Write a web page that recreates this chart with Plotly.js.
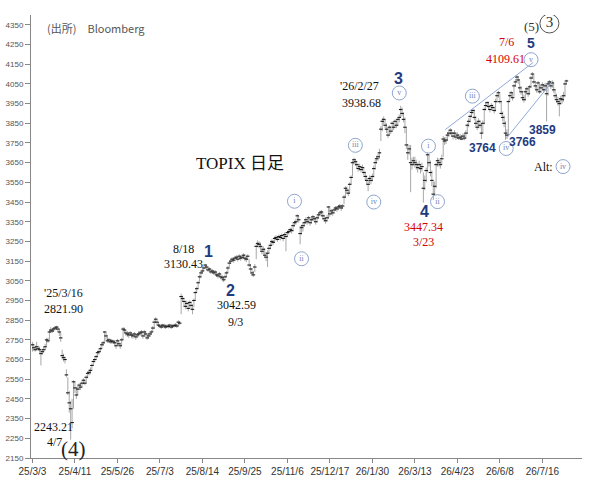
<!DOCTYPE html>
<html>
<head>
<meta charset="utf-8">
<script src="https://cdn.plot.ly/plotly-3.0.1.min.js"></script>
<style>body{margin:0;background:#fff;}</style>
</head>
<body>
<div id="topix_div" style="width:604px;height:481px;"></div>
<script>
// TOPIX daily (one value per trading day)
let close_px = [
  2725, 2710, 2700, 2715, 2705, 2700, 2680, 2690, 2700, 2715,
  2750, 2745, 2790, 2800, 2795, 2805, 2810, 2815, 2805, 2790,
  2760, 2670, 2660, 2650, 2572, 2481, 2430, 2400, 2330, 2537,
  2506, 2470, 2500, 2520, 2510, 2530, 2545, 2530, 2560, 2580,
  2585, 2595, 2620, 2640, 2650, 2665, 2685, 2690, 2705, 2725,
  2735, 2790, 2770, 2745, 2750, 2740, 2745, 2740, 2735, 2720,
  2745, 2730, 2720, 2750, 2805, 2800, 2785, 2780, 2775, 2785,
  2775, 2770, 2780, 2765, 2775, 2780, 2785, 2790, 2770, 2790,
  2780, 2760, 2770, 2780, 2790, 2810, 2840, 2855, 2840, 2825,
  2820, 2815, 2825, 2820, 2815, 2820, 2818, 2825, 2815, 2820,
  2822, 2825, 2820, 2840, 2835, 2970, 2960, 2945, 2920, 2935,
  2910, 2940, 2925, 2905, 2950, 2990, 3010, 3040, 3070, 3090,
  3100, 3115, 3130, 3120, 3105, 3110, 3095, 3100, 3090, 3095,
  3080, 3075, 3085, 3070, 3065, 3055, 3070, 3090, 3115, 3140,
  3150, 3160, 3155, 3165, 3170, 3160, 3175, 3165, 3170, 3180,
  3165, 3160, 3175, 3130, 3110, 3090, 3080, 3120, 3225, 3240,
  3235, 3225, 3200, 3210, 3180, 3170, 3190, 3215, 3230, 3250,
  3245, 3265, 3270, 3260, 3275, 3270, 3280, 3265, 3285, 3275,
  3295, 3300, 3310, 3305, 3330, 3345, 3350, 3380, 3360, 3290,
  3320, 3330, 3345, 3360, 3350, 3370, 3345, 3360, 3375, 3365,
  3350, 3370, 3385, 3395, 3400, 3380, 3365, 3355, 3370, 3425,
  3390, 3405, 3395, 3410, 3420, 3415, 3425, 3430, 3420, 3430,
  3475, 3520, 3510, 3495, 3540, 3575, 3650, 3665, 3655, 3640,
  3620, 3630, 3615, 3625, 3600, 3580, 3560, 3540, 3570, 3560,
  3580, 3620, 3650, 3670, 3680, 3700, 3820, 3860, 3870, 3840,
  3820, 3790, 3830, 3810, 3850, 3830, 3860, 3840, 3870, 3880,
  3920, 3900, 3870, 3830, 3740, 3700, 3720, 3650, 3640, 3660,
  3650, 3640, 3625, 3640, 3620, 3630, 3520, 3560, 3610, 3690,
  3650, 3600, 3560, 3490, 3530, 3640, 3660, 3650, 3640, 3670,
  3770, 3760, 3765, 3790, 3800, 3815, 3800, 3785, 3800, 3780,
  3790, 3775, 3780, 3770, 3785, 3775, 3800, 3840, 3860, 3885,
  3905, 3915, 3880, 3850, 3830, 3860, 3840, 3800, 3850, 3920,
  3940, 3955, 3935, 3920, 3940, 3930, 3915, 3960, 3990, 4005,
  3960, 3900, 3880, 3850, 3800, 3790, 3960, 3990, 4005, 3980,
  4040, 4060, 4085, 4070, 4030, 4010, 3980, 3970, 4010, 4025,
  4000, 4035, 4080, 4100, 4060, 4040, 4020, 4055, 4010, 4030,
  4045, 4020, 4040, 4000, 4050, 4060, 4040, 4055, 4020, 3990,
  3970, 3960, 3950, 3975, 3970, 3990, 4050, 4065
];
let high_px = [
  2740, 2730, 2720, 2740, 2720, 2715, 2705, 2705, 2715, 2730,
  2760, 2760, 2800, 2815, 2810, 2815, 2820, 2822, 2818, 2805,
  2785, 2700, 2680, 2665, 2600, 2560, 2490, 2440, 2450, 2545,
  2540, 2510, 2515, 2530, 2530, 2540, 2555, 2550, 2570, 2590,
  2600, 2610, 2630, 2650, 2660, 2675, 2695, 2700, 2715, 2735,
  2745, 2795, 2785, 2765, 2760, 2755, 2755, 2750, 2750, 2740,
  2755, 2750, 2735, 2760, 2815, 2812, 2800, 2795, 2790, 2795,
  2790, 2785, 2790, 2780, 2785, 2795, 2795, 2800, 2790, 2800,
  2795, 2780, 2785, 2790, 2800, 2820, 2850, 2865, 2855, 2840,
  2830, 2828, 2832, 2830, 2828, 2830, 2828, 2832, 2828, 2830,
  2832, 2835, 2832, 2850, 2845, 2985, 2975, 2965, 2945, 2950,
  2935, 2950, 2945, 2930, 2960, 3000, 3020, 3050, 3080, 3100,
  3110, 3125, 3135, 3132, 3120, 3118, 3110, 3110, 3102, 3105,
  3095, 3088, 3095, 3085, 3078, 3070, 3082, 3100, 3125, 3150,
  3160, 3170, 3168, 3175, 3180, 3175, 3185, 3178, 3180, 3190,
  3185, 3175, 3185, 3160, 3135, 3115, 3100, 3135, 3235, 3255,
  3250, 3245, 3225, 3225, 3215, 3195, 3205, 3225, 3245, 3260,
  3258, 3275, 3282, 3275, 3285, 3282, 3290, 3285, 3295, 3290,
  3305, 3312, 3320, 3320, 3340, 3355, 3365, 3388, 3380, 3330,
  3335, 3345, 3355, 3372, 3365, 3380, 3365, 3372, 3385, 3378,
  3368, 3380, 3395, 3405, 3410, 3400, 3385, 3372, 3385, 3430,
  3420, 3415, 3410, 3420, 3430, 3428, 3435, 3440, 3432, 3440,
  3485, 3530, 3528, 3515, 3550, 3585, 3660, 3675, 3670, 3660,
  3645, 3645, 3632, 3640, 3625, 3605, 3585, 3565, 3585, 3580,
  3595, 3635, 3665, 3685, 3695, 3720, 3835, 3875, 3885, 3872,
  3850, 3825, 3840, 3835, 3860, 3855, 3870, 3865, 3880, 3895,
  3939, 3930, 3905, 3880, 3830, 3745, 3740, 3740, 3675, 3680,
  3680, 3665, 3650, 3660, 3645, 3650, 3600, 3585, 3625, 3700,
  3690, 3660, 3610, 3555, 3555, 3650, 3675, 3672, 3665, 3690,
  3785, 3780, 3782, 3805, 3812, 3825, 3820, 3805, 3815, 3800,
  3805, 3795, 3795, 3790, 3800, 3795, 3815, 3850, 3875, 3895,
  3915, 3925, 3920, 3885, 3860, 3875, 3865, 3850, 3865, 3930,
  3955, 3962, 3960, 3940, 3952, 3945, 3935, 3975, 4000, 4015,
  4000, 3965, 3910, 3890, 3860, 3820, 3970, 4000, 4015, 4005,
  4050, 4075, 4095, 4090, 4065, 4040, 4015, 3995, 4020, 4035,
  4030, 4045, 4090, 4110, 4095, 4065, 4045, 4065, 4050, 4045,
  4058, 4050, 4055, 4045, 4062, 4070, 4065, 4068, 4058, 4025,
  4000, 3985, 3975, 3990, 3992, 4010, 4060, 4072
];
let low_px = [
  2690, 2695, 2690, 2700, 2695, 2685, 2620, 2675, 2685, 2700,
  2720, 2735, 2750, 2785, 2785, 2790, 2798, 2800, 2790, 2770,
  2740, 2650, 2640, 2630, 2560, 2470, 2380, 2243, 2300, 2400,
  2480, 2450, 2470, 2495, 2495, 2510, 2525, 2520, 2530, 2555,
  2570, 2575, 2600, 2620, 2635, 2650, 2665, 2675, 2690, 2705,
  2720, 2740, 2750, 2735, 2735, 2730, 2730, 2730, 2725, 2705,
  2720, 2720, 2705, 2720, 2750, 2785, 2770, 2765, 2760, 2770,
  2760, 2755, 2765, 2750, 2760, 2765, 2770, 2775, 2755, 2765,
  2765, 2750, 2755, 2765, 2775, 2790, 2805, 2835, 2825, 2815,
  2810, 2805, 2812, 2808, 2805, 2810, 2808, 2812, 2805, 2810,
  2812, 2815, 2810, 2820, 2825, 2880, 2945, 2920, 2905, 2915,
  2895, 2915, 2905, 2880, 2915, 2950, 2990, 3010, 3045, 3065,
  3085, 3100, 3112, 3105, 3095, 3098, 3085, 3088, 3080, 3082,
  3070, 3062, 3072, 3058, 3052, 3043, 3055, 3068, 3090, 3120,
  3135, 3145, 3142, 3150, 3158, 3148, 3160, 3152, 3158, 3165,
  3150, 3145, 3155, 3120, 3095, 3075, 3070, 3095, 3160, 3220,
  3215, 3205, 3185, 3185, 3165, 3150, 3120, 3190, 3210, 3230,
  3232, 3245, 3255, 3248, 3260, 3255, 3265, 3250, 3265, 3200,
  3275, 3285, 3295, 3290, 3300, 3325, 3335, 3350, 3345, 3235,
  3285, 3300, 3325, 3340, 3335, 3350, 3330, 3340, 3355, 3350,
  3335, 3345, 3365, 3378, 3385, 3362, 3350, 3340, 3350, 3365,
  3375, 3385, 3380, 3392, 3405, 3400, 3410, 3415, 3405, 3415,
  3440, 3470, 3495, 3480, 3495, 3540, 3580, 3640, 3635, 3620,
  3605, 3610, 3600, 3605, 3585, 3560, 3540, 3505, 3545, 3540,
  3555, 3575, 3615, 3645, 3660, 3670, 3760, 3810, 3845, 3825,
  3800, 3775, 3785, 3795, 3805, 3815, 3825, 3825, 3835, 3855,
  3880, 3885, 3855, 3800, 3720, 3665, 3690, 3500, 3615, 3635,
  3625, 3615, 3600, 3615, 3595, 3605, 3447, 3510, 3550, 3600,
  3630, 3580, 3530, 3460, 3485, 3520, 3630, 3630, 3620, 3640,
  3680, 3740, 3745, 3760, 3780, 3790, 3780, 3768, 3778, 3765,
  3770, 3766, 3765, 3764, 3768, 3764, 3770, 3795, 3830, 3855,
  3880, 3895, 3865, 3835, 3815, 3825, 3825, 3770, 3800, 3845,
  3915, 3935, 3920, 3905, 3915, 3912, 3900, 3910, 3955, 3980,
  3950, 3890, 3860, 3830, 3766, 3770, 3785, 3960, 3980, 3965,
  3985, 4035, 4060, 4050, 4015, 3995, 3965, 3955, 3965, 4000,
  3985, 3995, 4030, 4075, 4050, 4025, 4005, 4015, 4000, 4005,
  4020, 4005, 4015, 3859, 3990, 4040, 4025, 4030, 4005, 3975,
  3955, 3940, 3885, 3945, 3950, 3960, 3985, 4045
];

let tick_vals = [0, 30, 60, 90, 120, 150, 180, 210, 240, 270, 300, 330, 360];
let tick_text = ['25/3/3', '25/4/11', '25/5/26', '25/7/3', '25/8/14', '25/9/25', '25/11/6',
                 '25/12/17', '26/1/30', '26/3/13', '26/4/23', '26/6/8', '26/7/16'];
let y_ticks = [2150, 2250, 2350, 2450, 2550, 2650, 2750, 2850, 2950, 3050, 3150,
               3250, 3350, 3450, 3550, 3650, 3750, 3850, 3950, 4050, 4150, 4250, 4350];

// channel lines of the last wave (bar index / price)
let upper_x = [291.5, 353.5];
let upper_y = [3818, 4159];
let lower_x = [335, 367];
let lower_y = [3777, 4062];

// small circled wave counts
let circ_x = [185, 190, 228, 241, 259, 279.6, 286, 310.6, 334.5, 352, 374.6];
let circ_y = [3454, 3162, 3738, 3450, 4004, 3734, 3452, 3988, 3722, 4173, 3630];
let circ_text = ['i', 'ii', 'iii', 'iv', 'v', 'i', 'ii', 'iii', 'iv', 'v', 'iv'];

let navy = '#1f3b80';
let red = '#d40000';
let serif = 'Liberation Serif, Noto Sans CJK JP, serif';
let sans = 'Liberation Sans, Arial, sans-serif';

let bar_x = [];
let err_up = [];
let err_dn = [];
for (var i = 0; i < close_px.length; i++) {
  bar_x.push(i);
  err_up.push(high_px[i] - close_px[i]);
  err_dn.push(close_px[i] - low_px[i]);
}

function note(x, y, text, color, size, font, bold) {
  return {
    x: x, y: y, xref: 'x', yref: 'y', text: bold ? '<b>' + text + '</b>' : text,
    showarrow: false, font: {family: font, size: size, color: color}
  };
}

let chart_data = [
  {
    x: bar_x, y: close_px, type: 'scatter', mode: 'markers',
    marker: {symbol: 'line-ew', size: 2.5, line: {width: 1.1, color: '#1a1a1a'}},
    error_y: {type: 'data', symmetric: false, array: err_up, arrayminus: err_dn,
              color: '#a8a8a8', thickness: 1, width: 0},
    hoverinfo: 'skip'
  },
  {x: upper_x, y: upper_y, type: 'scatter', mode: 'lines', line: {color: '#8eaadb', width: 1}},
  {x: lower_x, y: lower_y, type: 'scatter', mode: 'lines', line: {color: '#8eaadb', width: 1}},
  {
    x: circ_x, y: circ_y, type: 'scatter', mode: 'markers+text',
    text: circ_text, textposition: 'middle center',
    textfont: {family: serif, size: 8, color: '#6f86b6'},
    marker: {symbol: 'circle-open', size: 14, color: '#8fa5cc', line: {width: 1, color: '#8fa5cc'}}
  },
  {
    x: [365], y: [4357], type: 'scatter', mode: 'markers+text',
    text: ['3'], textposition: 'middle center',
    textfont: {family: serif, size: 15, color: '#333'},
    marker: {symbol: 'circle-open', size: 19, color: '#555', line: {width: 1, color: '#555'}}
  }
];

layout = {
  width: 604,
  height: 481,
  margin: {l: 31, r: 22, t: 15, b: 23},
  paper_bgcolor: '#fff',
  plot_bgcolor: '#fff',
  showlegend: false,
  hovermode: false,
  xaxis: {
    range: [-1, 388],
    tickvals: tick_vals,
    ticktext: tick_text,
    showgrid: false,
    zeroline: false,
    showline: true,
    linecolor: '#888',
    ticks: 'outside',
    ticklen: 4,
    tickcolor: '#888',
    tickfont: {family: sans, size: 10, color: '#333'}
  },
  yaxis: {
    range: [2150, 4400],
    tickvals: y_ticks,
    showgrid: false,
    zeroline: false,
    showline: true,
    linecolor: '#888',
    ticks: 'outside',
    ticklen: 5,
    tickcolor: '#888',
    tickfont: {family: sans, size: 8, color: '#555'}
  },
  annotations: [
    {xref: 'paper', yref: 'paper', x: 0.025, y: 0.993, xanchor: 'left', text: '(出所)　Bloomberg',
     showarrow: false, font: {family: 'Noto Sans CJK JP, sans-serif', size: 11, color: '#555'}},
    {xref: 'paper', yref: 'paper', x: 0.296, y: 0.691, text: 'TOPIX 日足',
     showarrow: false, font: {family: serif, size: 17, color: '#111'}},
    note(21.8, 2989, "'25/3/16", '#111', 12, serif),
    note(21.8, 2908, '2821.90', '#111', 12, serif),
    note(15, 2310, '2243.21', '#111', 12, serif),
    note(15.6, 2232, '4/7', '#111', 12, serif),
    note(29, 2198, '(4)', '#222', 21, serif),
    note(107, 3212, '8/18', '#111', 12, serif),
    note(107, 3133, '3130.43', '#111', 12, serif),
    note(124, 3200, '1', navy, 16, sans, true),
    note(139.5, 3003, '2', navy, 16, sans, true),
    note(144.4, 2925, '3042.59', '#111', 12, serif),
    note(143.7, 2843, '9/3', '#111', 12, serif),
    note(231, 4037, "'26/2/27", '#111', 12, serif),
    note(232, 3955, '3938.68', '#111', 12, serif),
    note(258.5, 4077, '3', navy, 16, sans, true),
    note(276.8, 3401, '4', navy, 16, sans, true),
    note(276, 3325, '3447.34', red, 12, serif),
    note(276, 3249, '3/23', red, 12, serif),
    note(317.6, 3727, '3764', navy, 12, sans, true),
    note(345.8, 3757, '3766', navy, 12, sans, true),
    note(360, 3818, '3859', navy, 12, sans, true),
    note(361, 3630, 'Alt:', '#111', 12, serif),
    note(335, 4261, '7/6', red, 12, serif),
    note(334, 4176, '4109.61', red, 12, serif),
    note(352, 4257, '5', navy, 14, sans, true),
    note(352, 4340, '(5)', '#333', 13, serif)
  ]
};

Plotly.newPlot('topix_div', chart_data, layout, {staticPlot: true});
</script>
</body>
</html>
